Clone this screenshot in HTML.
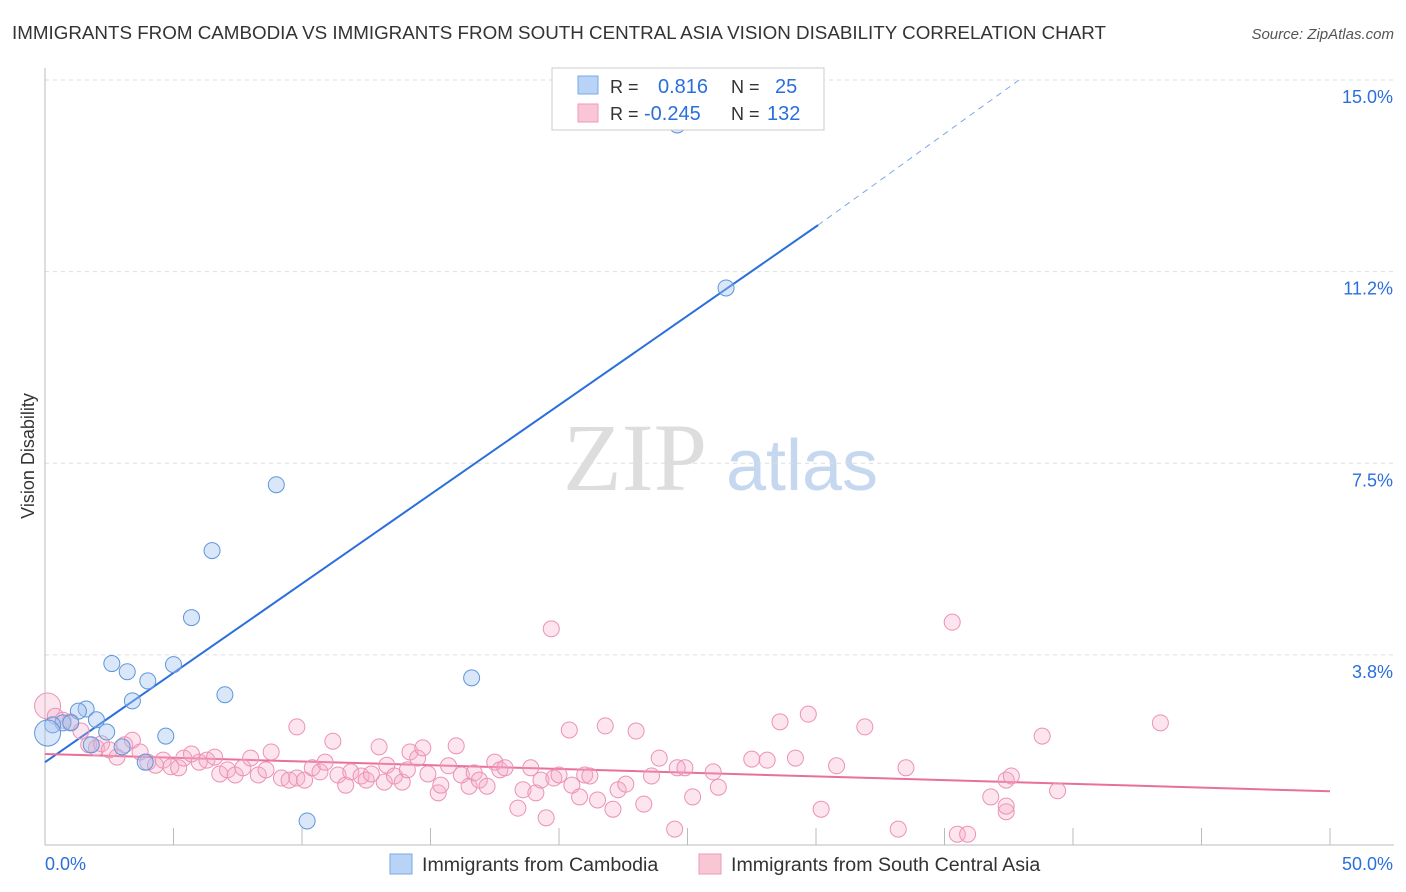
<!DOCTYPE html>
<html><head><meta charset="utf-8">
<style>
body{margin:0;background:#fff;font-family:"Liberation Sans",sans-serif;}
svg{display:block}
</style></head>
<body>
<svg id="chart" width="1406" height="892">
<text x="12" y="39" font-size="18.8" fill="#333">IMMIGRANTS FROM CAMBODIA VS IMMIGRANTS FROM SOUTH CENTRAL ASIA VISION DISABILITY CORRELATION CHART</text>
<text x="1394" y="39" font-size="15" fill="#555" font-style="italic" text-anchor="end">Source: ZipAtlas.com</text>
<text x="34" y="456" font-size="18" fill="#333" transform="rotate(-90 34 456)" text-anchor="middle">Vision Disability</text>
<g id="watermark">
<text x="635" y="490" font-size="96" fill="#ddd" font-family="Liberation Serif,serif" text-anchor="middle">ZIP</text>
<text x="802" y="490" font-size="72" fill="#c5d8f0" text-anchor="middle">atlas</text>
</g>
<g id="grid"></g><g id="axes"></g><g id="lines"></g><g id="pts"></g>
<g>
<rect x="552" y="68" width="272" height="62" fill="#fff" stroke="#ccc"/>
<rect x="578" y="76" width="20" height="18" fill="#b8d3f5" stroke="#7aa8e6"/>
<rect x="578" y="104" width="20" height="18" fill="#f9c6d6" stroke="#ee9ab8"/>
<text x="610" y="93" font-size="18" fill="#333">R = <tspan fill="#2a6fdb" x="658" font-size="20">0.816</tspan><tspan x="731" fill="#333">N = </tspan><tspan fill="#2a6fdb" x="775" font-size="20">25</tspan></text>
<text x="610" y="120" font-size="18" fill="#333">R = <tspan fill="#2a6fdb" x="644" font-size="20">-0.245</tspan><tspan x="731" fill="#333">N = </tspan><tspan fill="#2a6fdb" x="767" font-size="20">132</tspan></text>
</g>
<g>
<rect x="390" y="854" width="22" height="20" fill="#b8d3f5" stroke="#7aa8e6"/>
<text x="422" y="871" font-size="19.6" fill="#333">Immigrants from Cambodia</text>
<rect x="699" y="854" width="22" height="20" fill="#f9c6d6" stroke="#ee9ab8"/>
<text x="731" y="871" font-size="19.6" fill="#333">Immigrants from South Central Asia</text>
</g>
</svg>
<script>
const yTicks=[3.75,7.5,11.25,15];
const yTickLabels=["3.8%","7.5%","11.2%","15.0%"];
const xTickVals=[0,5,10,15,20,25,30,35,40,45,50];
const blueX=[24.6,26.5,9.0,6.5,5.7,5.0,2.6,3.2,4.0,3.4,7.0,16.6,4.7,1.6,1.3,2.0,2.4,0.7,0.3,0.1,1.0,1.8,3.0,3.9,10.2];
const blueY=[14.12,10.93,7.08,5.79,4.48,3.56,3.58,3.42,3.24,2.85,2.97,3.30,2.16,2.69,2.65,2.48,2.24,2.42,2.38,2.22,2.42,1.99,1.95,1.65,0.50];
const pinkX=[0.1,0.4,0.7,1.0,1.4,1.7,2.0,2.2,2.5,2.8,3.1,3.4,3.7,4.0,4.3,4.6,4.9,5.2,5.4,5.7,6.0,6.3,6.6,6.8,7.1,7.4,7.7,8.0,8.3,8.6,8.8,9.2,9.5,9.8,9.8,10.1,10.4,10.7,10.9,11.2,11.4,11.7,11.9,12.3,12.5,12.7,13.0,13.2,13.3,13.6,13.9,14.1,14.2,14.5,14.7,14.9,15.3,15.4,15.7,16.0,16.2,16.5,16.7,16.9,17.2,17.5,17.7,17.9,18.4,18.6,18.9,19.1,19.3,19.5,19.7,19.8,20.0,20.4,20.5,20.8,21.0,21.2,21.5,21.8,22.1,22.3,22.6,23.0,23.3,23.6,23.9,24.5,24.6,24.9,25.2,26.0,26.2,27.5,28.1,28.6,29.2,29.7,30.2,30.8,31.9,33.2,33.5,35.3,35.5,35.9,36.8,37.4,37.4,37.4,37.6,38.8,39.4,43.4];
const pinkY=[2.75,2.55,2.47,2.44,2.26,1.99,1.93,2.01,1.89,1.75,1.99,2.08,1.85,1.65,1.59,1.69,1.56,1.54,1.73,1.81,1.65,1.69,1.75,1.42,1.50,1.40,1.54,1.73,1.40,1.50,1.85,1.34,1.30,1.34,2.34,1.30,1.54,1.46,1.65,2.06,1.40,1.20,1.46,1.38,1.30,1.42,1.95,1.26,1.59,1.38,1.26,1.50,1.85,1.73,1.93,1.42,1.05,1.20,1.58,1.97,1.40,1.18,1.44,1.30,1.18,1.65,1.50,1.54,0.75,1.11,1.54,1.05,1.30,0.56,4.26,1.34,1.40,2.28,1.20,0.97,1.40,1.38,0.91,2.36,0.73,1.11,1.22,2.26,0.83,1.38,1.73,0.34,1.54,1.54,0.97,1.46,1.16,1.71,1.69,2.44,1.73,2.59,0.73,1.58,2.34,0.34,1.54,4.39,0.24,0.24,0.97,1.30,0.68,0.79,1.38,2.16,1.09,2.42];
const blueFit=[[0,1.65],[30.08,12.16]];
const blueDash=[[30.08,12.16],[37.9,15.0]];
const pinkFit=[[0,1.81],[50,1.08]];
const NS="http://www.w3.org/2000/svg";
const sx=v=>45+v*25.7, sy=v=>846.5-v*51.1;
function mk(tag,attrs,parent){const e=document.createElementNS(NS,tag);for(const k in attrs)e.setAttribute(k,attrs[k]);parent.appendChild(e);return e;}
const grid=document.getElementById('grid'),axes=document.getElementById('axes'),lines=document.getElementById('lines'),pts=document.getElementById('pts');
yTicks.forEach((t,i)=>{
 const l=mk('line',{x1:45,x2:1394,y1:sy(t),y2:sy(t),stroke:'#ddd','stroke-dasharray':'4,4'},grid);
 
 
 const tx=mk('text',{x:1393,y:sy(t)+23,'font-size':18,fill:'#2a6fdb','text-anchor':'end'},axes);
 tx.textContent=yTickLabels[i];
 
 
});
const ax=mk('line',{x1:45,x2:45,y1:68,y2:845,stroke:'#bbb'},axes);


const bx=mk('line',{x1:45,x2:1394,y1:845,y2:845,stroke:'#bbb'},axes);


xTickVals.forEach(v=>{
 const t=mk('line',{x1:sx(v),x2:sx(v),y1:828,y2:845,stroke:'#bbb'},axes);
 
 
});
const xl0=mk('text',{x:45,y:870,'font-size':18,fill:'#2a6fdb'},axes);xl0.textContent='0.0%';


const xl1=mk('text',{x:1393,y:870,'font-size':18,fill:'#2a6fdb','text-anchor':'end'},axes);xl1.textContent='50.0%';


pinkX.forEach((x,i)=>{
 const c=mk('circle',{cx:sx(x),cy:sy(pinkY[i]),r:i===0?13:8,fill:'rgba(246,170,198,0.3)',stroke:'#ec92b2','stroke-width':1},pts);
 
 
});
blueX.forEach((x,i)=>{
 const c=mk('circle',{cx:sx(x),cy:sy(blueY[i]),r:i===19?13:8,fill:'rgba(160,196,240,0.4)',stroke:'#5f96dc','stroke-width':1},pts);
 
 
});
const bl=mk('line',{x1:sx(blueFit[0][0]),y1:sy(blueFit[0][1]),x2:sx(blueFit[1][0]),y2:sy(blueFit[1][1]),stroke:'#2a6fdb','stroke-width':2},lines);


const bd=mk('line',{x1:sx(blueDash[0][0]),y1:sy(blueDash[0][1]),x2:sx(blueDash[1][0]),y2:sy(blueDash[1][1]),stroke:'#7aa8e6','stroke-width':1,'stroke-dasharray':'6,5'},lines);


const pl=mk('line',{x1:sx(pinkFit[0][0]),y1:sy(pinkFit[0][1]),x2:sx(pinkFit[1][0]),y2:sy(pinkFit[1][1]),stroke:'#e8709a','stroke-width':2},lines);


const topGrid=mk('line',{x1:45,x2:1394,y1:80,y2:80,stroke:'#ddd','stroke-dasharray':'4,4'},grid);


</script>
</body></html>
